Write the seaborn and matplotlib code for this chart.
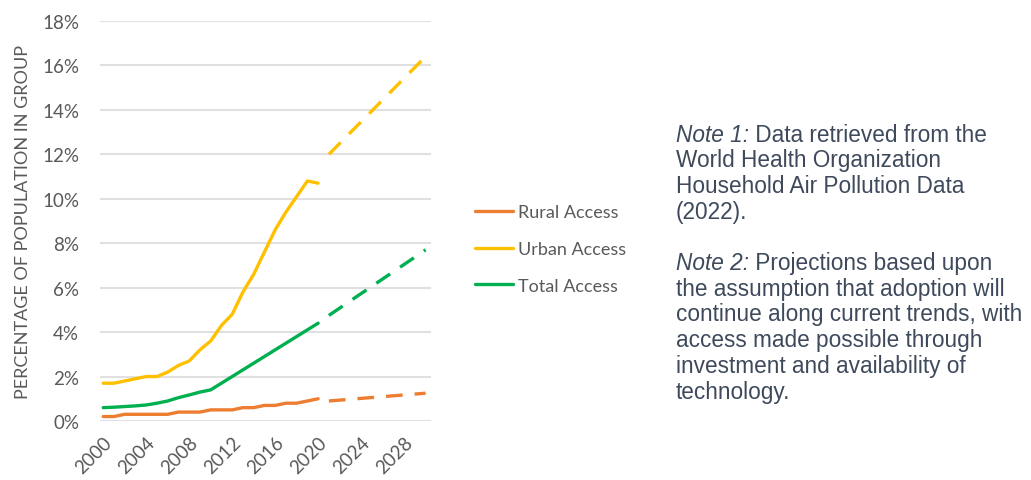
import matplotlib
matplotlib.use("Agg")
import matplotlib.pyplot as plt
import seaborn as sns
import pandas as pd

# Observed access to clean cooking (% of population), 2000-2020
years = list(range(2000, 2021))
rural = [0.2, 0.2, 0.3, 0.3, 0.3, 0.3, 0.3, 0.4, 0.4, 0.4, 0.5,
         0.5, 0.5, 0.6, 0.6, 0.7, 0.7, 0.8, 0.8, 0.9, 1.0]
urban = [1.7, 1.7, 1.8, 1.9, 2.0, 2.0, 2.2, 2.5, 2.7, 3.2, 3.6,
         4.3, 4.8, 5.8, 6.6, 7.6, 8.6, 9.4, 10.1, 10.8, 10.7]
total = [0.6, 0.62, 0.65, 0.68, 0.72, 0.8, 0.9, 1.05, 1.17, 1.3, 1.4,
         1.7, 2.0, 2.3, 2.6, 2.9, 3.2, 3.5, 3.8, 4.1, 4.4]

# Projected trend lines, 2021-2030
proj_years = [2021, 2030]
rural_proj = [0.9, 1.25]
urban_proj = [12.0, 16.4]
total_proj = [4.75, 7.7]

series_names = ["Rural Access", "Urban Access", "Total Access"]
palette = {"Rural Access": "#ED7D31", "Urban Access": "#FFC000", "Total Access": "#00B050"}

x_ticks = list(range(2000, 2030, 4))
y_ticks = list(range(0, 20, 2))

actual = pd.DataFrame({
    "year": years * 3,
    "value": rural + urban + total,
    "series": [s for s in series_names for _ in years],
})
projected = pd.DataFrame({
    "year": proj_years * 3,
    "value": rural_proj + urban_proj + total_proj,
    "series": [s for s in series_names for _ in proj_years],
})

sns.set_theme(style="white")
plt.rcParams["font.family"] = ["Lato", "DejaVu Sans"]

fig = plt.figure(figsize=(10.31, 4.81), dpi=100)
ax = fig.add_axes([0.097, 0.1227, 0.321, 0.8316])

tick_grey = "#595959"
ax.set_ylim(0, 18)
ax.set_xlim(1999.7, 2030.5)
ax.set_yticks(y_ticks)
ax.set_yticklabels([f"{v}%" for v in y_ticks], color=tick_grey, fontsize=13.5)
ax.set_xticks(x_ticks)
ax.set_xticklabels([str(v) for v in x_ticks], rotation=45, ha="right",
                   rotation_mode="anchor", color=tick_grey, fontsize=13.5)
ax.tick_params(axis="y", length=0, pad=15)
ax.tick_params(axis="x", length=0, pad=9)
ax.grid(axis="y", color="#E0E0E0", linewidth=1.5)
ax.set_axisbelow(True)
for sp in ax.spines.values():
    sp.set_visible(False)

sns.lineplot(data=actual, x="year", y="value", hue="series", hue_order=series_names,
             palette=palette, linewidth=2.4, ax=ax, legend=True)
sns.lineplot(data=projected, x="year", y="value", hue="series", hue_order=series_names,
             palette=palette, linewidth=2.4, ax=ax, legend=False,
             linestyle=(0, (5, 3.6)))

ax.set_xlabel("")
ax.set_ylabel("PERCENTAGE OF POPULATION IN GROUP", color=tick_grey, fontsize=13, labelpad=8)

leg = ax.legend(loc="center left", bbox_to_anchor=(1.085, 0.43), frameon=False,
                fontsize=13, handlelength=2.1, handletextpad=0.25, labelspacing=1.15)
for t in leg.get_texts():
    t.set_color(tick_grey)

note_color = "#3E4A5C"
note_font = ["Liberation Sans", "DejaVu Sans"]
note_lines = [
    ("Note 1:", " Data retrieved from the"),
    ("", "World Health Organization"),
    ("", "Household Air Pollution Data"),
    ("", "(2022)."),
    None,
    ("Note 2:", " Projections based upon"),
    ("", "the assumption that adoption will"),
    ("", "continue along current trends, with"),
    ("", "access made possible through"),
    ("", "investment and availability of"),
    ("", "technology."),
]
x0 = 676 / 1031
y_top = 135
step = 25.7
for i, line in enumerate(note_lines):
    if line is None:
        continue
    y = 1 - (y_top + i * step) / 481
    lead, rest = line
    if lead:
        t = fig.text(x0, y, lead, fontsize=16.3, style="italic", color=note_color,
                     family=note_font, va="center")
        fig.canvas.draw()
        bb = t.get_window_extent()
        fig.text(bb.x1 / 1031, y, rest, fontsize=16.3, color=note_color,
                 family=note_font, va="center")
    else:
        fig.text(x0, y, rest, fontsize=16.3, color=note_color, family=note_font, va="center")

fig.savefig("out.png", dpi=100, facecolor="white")
